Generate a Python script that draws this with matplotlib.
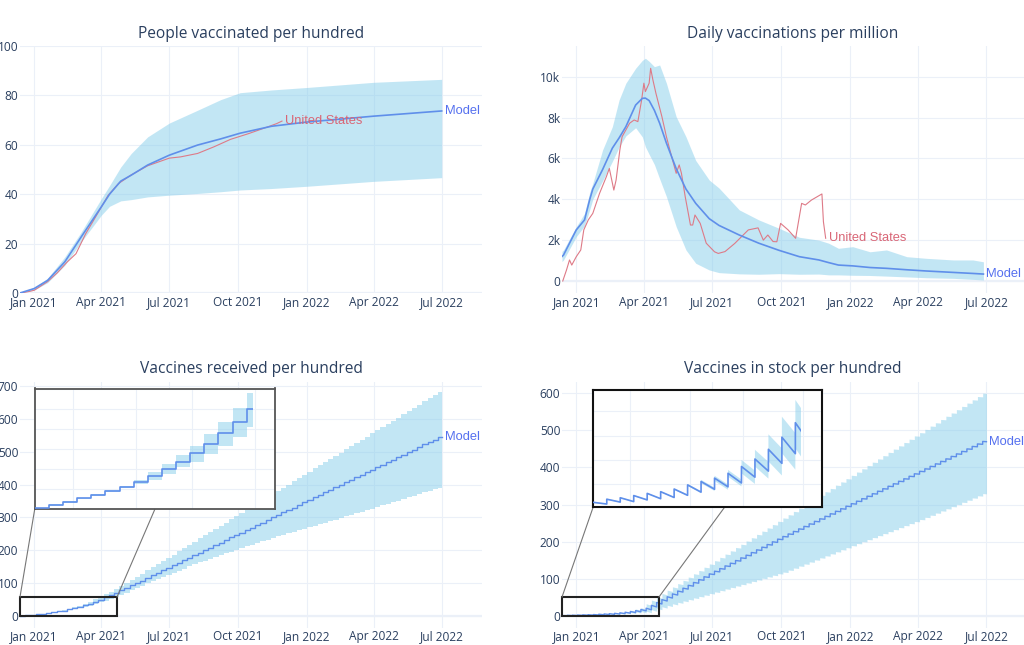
import matplotlib
matplotlib.use('Agg')
import matplotlib.pyplot as plt
import matplotlib.dates as mdates
from matplotlib.patches import Rectangle, ConnectionPatch
from matplotlib.ticker import FuncFormatter
import pandas as pd

# ------------------------------------------------------------------ data
# People vaccinated per hundred (model median / band) and United States
pv_dates = ['2020-12-13', '2021-01-01', '2021-01-19', '2021-02-11', '2021-03-05', '2021-04-01',
            '2021-04-12', '2021-04-27', '2021-05-11', '2021-06-02', '2021-07-01', '2021-08-08',
            '2021-09-08', '2021-10-04', '2021-11-15', '2022-01-01', '2022-04-01', '2022-07-01']
pv_model = [0, 1.8, 5.1, 12.6, 22.7, 34.9, 40.0, 45.3, 47.7, 51.8, 55.8, 59.9, 62.4, 64.7, 67.5, 69.2, 71.6, 73.7]
pv_upper = [0, 2.3, 6.0, 14.6, 24.7, 38.2, 43.5, 51.0, 56.5, 63.2, 68.8, 74.0, 78.3, 81.1, 82.2, 83.2, 85.3, 86.5]
pv_lower = [0, 1.2, 4.2, 11.2, 20.7, 31.5, 35.1, 37.3, 37.8, 38.9, 39.6, 40.3, 41.0, 41.7, 42.3, 43.2, 45.2, 46.7]

us_pv_dates = ['2020-12-14', '2020-12-25', '2021-01-01', '2021-01-19', '2021-02-01', '2021-02-14',
               '2021-02-26', '2021-03-11', '2021-03-27', '2021-04-10', '2021-04-24', '2021-05-11',
               '2021-06-02', '2021-07-01', '2021-07-16', '2021-08-08', '2021-08-30', '2021-09-21',
               '2021-10-15', '2021-11-01', '2021-11-13', '2021-11-22', '2021-11-29']
us_pv = [0, 0.6, 1.1, 4.6, 8.2, 12.5, 15.9, 24.0, 32.2, 39.5, 44.3, 47.8, 51.5, 54.6, 55.1,
         56.5, 59.2, 62.2, 64.5, 66.3, 67.6, 68.6, 69.6]

# Daily vaccinations per million
dv_dates = ['2020-12-13', '2020-12-15', '2021-01-01', '2021-01-12', '2021-01-19', '2021-01-23',
            '2021-02-05', '2021-02-18', '2021-02-27', '2021-03-08', '2021-03-21', '2021-03-30',
            '2021-04-03', '2021-04-08', '2021-04-15', '2021-04-22', '2021-05-01', '2021-05-14',
            '2021-05-27', '2021-06-09', '2021-06-27', '2021-07-10', '2021-08-06', '2021-09-01',
            '2021-09-28', '2021-10-25', '2021-11-20', '2021-12-03', '2021-12-16', '2022-01-04',
            '2022-01-27', '2022-02-18', '2022-03-17', '2022-04-12', '2022-05-18', '2022-06-13',
            '2022-06-27']
dv_model = [1200, 1270, 2500, 2990, 4000, 4500, 5450, 6500, 7000, 7550, 8610, 8940, 8950, 8830,
            8350, 7720, 6750, 5500, 4500, 3800, 3050, 2720, 2250, 1850, 1500, 1190, 1030, 900,
            780, 740, 660, 620, 550, 490, 420, 370, 340]
dv_upper = [1450, 1520, 2660, 3310, 4350, 4780, 6410, 7550, 8860, 9680, 10410, 10800, 10900,
            10750, 10490, 10570, 9680, 8040, 7060, 5900, 4940, 4550, 3480, 2990, 2580, 2140,
            2000, 1850, 1600, 1680, 1430, 1520, 1190, 1110, 1030, 1030, 940]
dv_lower = [950, 1030, 2170, 2700, 3500, 4000, 4900, 5850, 6550, 7100, 7500, 7050, 6570, 6200,
            5700, 5000, 4130, 2660, 1520, 870, 540, 410, 350, 330, 360, 330, 340, 300, 300, 280,
            270, 240, 200, 160, 130, 80, 50]

us_dv_dates = ['2020-12-14', '2020-12-19', '2020-12-23', '2020-12-26', '2021-01-01', '2021-01-07',
               '2021-01-11', '2021-01-17', '2021-01-23', '2021-02-01', '2021-02-10', '2021-02-14',
               '2021-02-20', '2021-02-23', '2021-02-28', '2021-03-03', '2021-03-13', '2021-03-19',
               '2021-03-24', '2021-03-29', '2021-04-01', '2021-04-03', '2021-04-08', '2021-04-10',
               '2021-04-13', '2021-04-17', '2021-04-25', '2021-05-01', '2021-05-08', '2021-05-14',
               '2021-05-18', '2021-05-21', '2021-05-26', '2021-06-02', '2021-06-05', '2021-06-08',
               '2021-06-15', '2021-06-23', '2021-07-04', '2021-07-09', '2021-07-18', '2021-07-31',
               '2021-08-18', '2021-08-31', '2021-09-07', '2021-09-13', '2021-09-20', '2021-09-25',
               '2021-09-30', '2021-10-10', '2021-10-20', '2021-10-28', '2021-11-02', '2021-11-10',
               '2021-11-24', '2021-11-26', '2021-11-29']
us_dv = [0, 540, 1030, 780, 1190, 1520, 2500, 2990, 3310, 4290, 5100, 5510, 4450, 4940, 6410,
         7060, 7720, 7880, 7800, 8860, 9680, 9270, 9680, 10410, 9840, 9190, 8040, 7060, 6080,
         5270, 5680, 5270, 4130, 2740, 2740, 3230, 2820, 1850, 1430, 1350, 1440, 1840, 2500,
         2600, 2000, 2250, 1930, 1920, 2820, 2500, 2090, 3800, 3720, 3960, 4260, 2900, 2090]

# Weekly deliveries (model): first delivery date, series start / end
first_delivery = '2020-12-20'
model_start = '2020-12-13'
model_end = '2022-07-01'

# Vaccines received per hundred: level after each weekly delivery
recv_start = 0.8
recv_model = [2.2, 3.7, 5.5, 7.2, 9.2, 11.3, 13.8, 16.7, 20.0, 23.8, 28.0, 32.7, 38.0, 43.8, 50.0,
              56.3, 63.1, 70.3, 77.8, 85.5,
              93, 101, 108, 116, 124, 131, 139, 147, 154, 162, 170, 177, 185, 193, 200, 208, 216,
              223, 231, 239, 246, 254, 261, 269, 277, 284, 292, 300, 307, 315, 323, 330, 338, 346,
              353, 361, 369, 376, 384, 392, 399, 407, 414, 422, 430, 437, 445, 453, 460, 468, 476,
              483, 491, 499, 506, 514, 522, 529, 537, 545]
recv_upper = [2.5, 4.0, 5.8, 7.5, 9.6, 11.8, 14.8, 18.8, 22.7, 27.2, 31.8, 37.5, 43.5, 50.5, 58.3,
              65.5, 73.0, 81.0, 90.0, 100.0,
              109, 119, 129, 139, 148, 158, 168, 178, 187, 197, 206, 216, 226, 236, 245, 255, 265,
              274, 284, 294, 303, 313, 323, 333, 342, 352, 362, 371, 381, 391, 400, 410, 420, 430,
              439, 449, 459, 468, 478, 488, 497, 507, 517, 527, 536, 546, 556, 565, 575, 585, 594,
              604, 614, 624, 633, 643, 653, 662, 672, 682]
recv_lower = [1.9, 3.4, 5.2, 6.9, 8.8, 10.8, 12.8, 14.7, 17.5, 21.0, 23.8, 27.7, 31.8, 36.3, 41.3,
              46.0, 51.5, 57.5, 64.0, 71.0,
              78, 85, 92, 99, 106, 113, 119, 125, 132, 138, 144, 151, 157, 163, 168, 174, 179,
              185, 191, 196, 202, 207, 212, 217, 222, 227, 232, 237, 242, 247, 252, 257, 261, 266,
              270, 275, 280, 284, 289, 293, 298, 303, 308, 312, 317, 322, 327, 332, 337, 342, 346,
              351, 356, 361, 366, 371, 376, 380, 385, 390]

# Vaccines in stock per hundred: level right after each delivery, and use until the next one
stock_start = 1.2
stock_start_upper = 1.3
stock_start_lower = 1.1
stock_start_use = 0.35
stock_model = [1.85, 2.15, 2.6, 3.05, 3.4, 3.95, 4.8, 5.5, 6.2, 7.2, 8.6, 10.15, 12.15, 14.65, 17.65,
               21.0, 28.7, 36.4, 44.1, 51.8, 59.5, 67.2, 74.9, 82.6, 90.3, 98.0, 105.7, 113.4,
               120.6, 127.8, 135.0, 142.2, 149.4, 156.6, 163.8, 171.0, 178.2, 185.4, 192.6, 199.8,
               207.0, 214.2, 221.0, 227.8, 234.6, 241.4, 248.2, 255.0, 261.8, 268.6, 275.4, 282.2,
               289.0, 295.8, 302.6, 309.3, 316.0, 322.7, 329.4, 336.1, 342.8, 349.5, 356.2, 362.9,
               369.6, 376.3, 383.0, 389.7, 396.4, 403.1, 409.8, 416.5, 423.2, 429.9, 436.6, 443.3,
               450.0, 456.7, 463.4, 470.1]
stock_upper = [1.95, 2.25, 2.7, 3.15, 3.5, 4.1, 5.0, 5.85, 6.7, 7.9, 9.95, 12.05, 15.25, 18.9, 22.35,
               33.0, 43.0, 52.0, 60.8, 69.7, 78.5, 87.4, 96.2, 105.0, 113.9, 122.7, 131.6, 140.4,
               149.2, 158.1, 166.9, 175.8, 184.6, 193.4, 202.3, 211.1, 220.0, 228.8, 237.6, 246.5,
               255.3, 264.2, 273.0, 281.8, 290.7, 299.5, 308.4, 317.2, 326.0, 334.9, 343.7, 352.6,
               361.4, 370.2, 379.1, 387.9, 396.8, 405.6, 414.4, 423.3, 432.1, 441.0, 449.8, 458.6,
               467.5, 476.3, 485.2, 494.0, 502.8, 511.7, 520.5, 529.4, 538.2, 547.0, 555.9, 564.7,
               573.6, 582.4, 591.2, 600.1]
stock_lower = [1.75, 2.05, 2.5, 2.95, 3.3, 3.8, 4.6, 5.15, 5.6, 6.5, 7.2, 8.6, 9.65, 11.35, 12.35,
               13.0, 17.0, 21.0, 25, 29, 33, 37, 41, 45, 49, 53, 57, 61,
               65.1, 69.2, 73.3, 77.4, 81.5, 85.6, 89.7, 93.8, 97.9, 102.0, 106.1, 110.2, 114.3, 118.4,
               123.9, 129.4, 134.9, 140.4, 145.9, 151.4, 156.9, 162.4, 167.9, 173.4, 178.9, 184.4, 189.9,
               195.3, 200.7, 206.1, 211.5, 216.9, 222.3, 227.7, 233.1, 238.5, 243.9, 249.3, 254.7, 260.1,
               265.9, 271.7, 277.5, 283.3, 289.1, 294.9, 300.7, 306.5, 312.3, 318.1, 323.9, 329.7]
stock_use = [0.6, 0.8, 0.9, 1.1, 1.2, 1.3, 1.5, 1.6, 1.8, 2.0, 2.2, 2.5, 2.9, 3.4, 4.0,
             4.3, 4.3, 4.1, 3.8, 3.5, 3.1, 2.8, 2.5, 2.2, 2.0,
             1.8, 1.8, 1.8, 1.8, 1.8,
             1.6, 1.6, 1.6, 1.6, 1.6, 1.6, 1.6, 1.6, 1.6, 1.6,
             1.3, 1.3, 1.3, 1.3, 1.3, 1.3, 1.3, 1.3, 1.3, 1.3, 1.3, 1.3, 1.3, 1.3, 1.3,
             1.0, 1.0, 1.0, 1.0, 1.0, 1.0, 1.0, 1.0, 1.0, 1.0, 1.0, 1.0, 1.0, 1.0, 1.0,
             1.0, 1.0, 1.0, 1.0, 1.0, 1.0, 1.0, 1.0, 1.0, 0.7]

x_tick_dates = ['2021-01-01', '2021-04-01', '2021-07-01', '2021-10-01',
                '2022-01-01', '2022-04-01', '2022-07-01']
inset_tick_dates = ['2021-01-01', '2021-02-01', '2021-03-01', '2021-04-01']

titles = ['People vaccinated per hundred', 'Daily vaccinations per million',
          'Vaccines received per hundred', 'Vaccines in stock per hundred']

# ------------------------------------------------------------------ style / layout
plt.rcParams['font.family'] = ['Open Sans', 'DejaVu Sans']
TXT = '#2a3f5f'
GRID = '#ebf0f8'
BAND = (135 / 255, 206 / 255, 235 / 255, 0.5)
MODEL = '#5f8fea'
MODEL_TXT = '#5570ef'
US = '#de7a87'
US_TXT = '#d96676'
LABEL_FONT = 'Liberation Sans'

W, H = 1024, 645
fig = plt.figure(figsize=(W / 100, H / 100), dpi=100)
fig.patch.set_facecolor('white')


def add_px_axes(left, top, width, height):
    return fig.add_axes([left / W, 1 - (top + height) / H, width / W, height / H])


XMIN = pd.Timestamp('2020-12-13')
XMAX = pd.Timestamp('2022-08-24')
INSET_XMAX = pd.Timestamp('2021-04-11')
INSET_DATA_END = pd.Timestamp('2021-03-31')
d2n = mdates.date2num


def style_main(ax, ylim, yticks, yfmt=None):
    ax.set_xlim(XMIN, XMAX)
    ax.set_ylim(*ylim)
    ax.set_xticks(pd.to_datetime(x_tick_dates))
    ax.xaxis.set_major_formatter(mdates.DateFormatter('%b %Y'))
    ax.set_yticks(yticks)
    if yfmt is not None:
        ax.yaxis.set_major_formatter(FuncFormatter(yfmt))
    for s in ax.spines.values():
        s.set_visible(False)
    ax.grid(True, color=GRID, lw=0.8)
    ax.set_axisbelow(True)
    ax.tick_params(length=0, labelsize=8.6, labelcolor=TXT)
    ax.tick_params(axis='x', pad=2.0)
    ax.tick_params(axis='y', pad=1.2)
    ax.axhline(0, color=GRID, lw=1.6, zorder=0.6)
    ax.patch.set_alpha(0)


def label(ax, x, y, text, color):
    ax.annotate(text, xy=(x, y), xytext=(2.2, 0), textcoords='offset points',
                ha='left', va='center', color=color, fontsize=9.3,
                family=LABEL_FONT, annotation_clip=False, zorder=6)


def steps(start, levels, dates):
    xs = [pd.Timestamp(model_start)] + list(dates) + [pd.Timestamp(model_end)]
    ys = [start] + list(levels) + [levels[-1]]
    return xs, ys


def sawtooth(start, pre_use, peaks, uses, dates):
    xs = [pd.Timestamp(model_start), dates[0]]
    ys = [start, start - pre_use]
    n = len(peaks)
    for i in range(n):
        nxt = dates[i + 1] if i + 1 < n else pd.Timestamp(model_end)
        xs += [dates[i], nxt]
        ys += [peaks[i], peaks[i] - uses[i]]
    return xs, ys


def make_inset(left, top, width, height, ylim, yticks, frame_color, frame_lw):
    ins = add_px_axes(left, top, width, height)
    ins.set_xlim(XMIN, INSET_XMAX)
    ins.set_ylim(*ylim)
    ins.set_xticks(pd.to_datetime(inset_tick_dates))
    ins.set_yticks(yticks)
    ins.tick_params(length=0, labelbottom=False, labelleft=False)
    ins.grid(True, color=GRID, lw=0.8)
    ins.set_axisbelow(True)
    ins.set_facecolor('white')
    for s in ins.spines.values():
        s.set_color(frame_color)
        s.set_linewidth(frame_lw)
    ins.set_zorder(5)
    return ins


def clip_to(artist, ax, ylim):
    r = Rectangle((d2n(XMIN), ylim[0] - 1000), d2n(INSET_DATA_END) - d2n(XMIN), 5000,
                  transform=ax.transData)
    artist.set_clip_path(r)


deliveries = pd.date_range(first_delivery, periods=len(recv_model), freq='7D')

# ------------------------------------------------------------------ top-left
ax1 = add_px_axes(20, 46, 462, 247)
style_main(ax1, (0, 100), [0, 20, 40, 60, 80, 100])
d = pd.to_datetime(pv_dates)
ax1.fill_between(d, pv_lower, pv_upper, color=BAND, lw=0, zorder=1)
ax1.plot(pd.to_datetime(us_pv_dates), us_pv, color=US, lw=0.8, zorder=2)
ax1.plot(d, pv_model, color=MODEL, lw=1.2, zorder=3)
label(ax1, pd.Timestamp(us_pv_dates[-1]), us_pv[-1], 'United States', US_TXT)
label(ax1, d[-1], pv_model[-1], 'Model', MODEL_TXT)

# ------------------------------------------------------------------ top-right
ax2 = add_px_axes(562, 46, 465, 247)
style_main(ax2, (-587, 11500), [0, 2000, 4000, 6000, 8000, 10000],
           lambda v, p: '0' if v == 0 else f'{int(v / 1000)}k')
d = pd.to_datetime(dv_dates)
ax2.fill_between(d, dv_lower, dv_upper, color=BAND, lw=0, zorder=1)
ax2.plot(pd.to_datetime(us_dv_dates), us_dv, color=US, lw=0.8, zorder=2)
ax2.plot(d, dv_model, color=MODEL, lw=1.2, zorder=3)
label(ax2, pd.Timestamp(us_dv_dates[-1]), us_dv[-1], 'United States', US_TXT)
label(ax2, d[-1], dv_model[-1], 'Model', MODEL_TXT)

# ------------------------------------------------------------------ bottom-left (received)
ax3 = add_px_axes(20, 381.7, 462, 245.8)
style_main(ax3, (-35, 713), [0, 100, 200, 300, 400, 500, 600, 700])
xs, ym = steps(recv_start, recv_model, deliveries)
_, yu = steps(recv_start, recv_upper, deliveries)
_, yl = steps(recv_start, recv_lower, deliveries)
ax3.fill_between(xs, yl, yu, step='post', color=BAND, lw=0, zorder=1)
ax3.plot(xs, ym, drawstyle='steps-post', color=MODEL, lw=1.0, zorder=3)
label(ax3, xs[-1], ym[-1], 'Model', MODEL_TXT)

RECV_RECT_END = pd.Timestamp('2021-04-22')
RECV_RECT_TOP = 58
ax3.add_patch(Rectangle((d2n(XMIN), 0), d2n(RECV_RECT_END) - d2n(XMIN), RECV_RECT_TOP,
                        fill=False, ec='#222222', lw=1.5, zorder=6, clip_on=False))
ins3_ylim = (0, 60.5)
ins3 = make_inset(34.7, 388.5, 240.3, 120.8, ins3_ylim, [10, 20, 30, 40, 50, 60], '#555555', 1.3)
pc = ins3.fill_between(xs, yl, yu, step='post', color=BAND, lw=0, zorder=1)
ln, = ins3.plot(xs, ym, drawstyle='steps-post', color=MODEL, lw=1.2, zorder=3)
clip_to(pc, ins3, ins3_ylim)
clip_to(ln, ins3, ins3_ylim)
for xyA, xB in [((d2n(XMIN), RECV_RECT_TOP), 0.0), ((d2n(RECV_RECT_END), RECV_RECT_TOP), 0.5)]:
    con = ConnectionPatch(xyA=xyA, coordsA=ax3.transData, xyB=(xB, 0), coordsB=ins3.transAxes,
                          color='#777777', lw=0.8)
    fig.add_artist(con)

# ------------------------------------------------------------------ bottom-right (stock)
ax4 = add_px_axes(562, 381.7, 465, 245.8)
style_main(ax4, (-31, 631), [0, 100, 200, 300, 400, 500, 600])
xs, ym = sawtooth(stock_start, stock_start_use, stock_model, stock_use, deliveries)
_, yu = sawtooth(stock_start_upper, stock_start_use, stock_upper, stock_use, deliveries)
_, yl = sawtooth(stock_start_lower, stock_start_use, stock_lower, stock_use, deliveries)
ax4.fill_between(xs, yl, yu, color=BAND, lw=0, zorder=1)
ax4.plot(xs, ym, color=MODEL, lw=1.0, zorder=3)
label(ax4, xs[-1], ym[-1], 'Model', MODEL_TXT)

STOCK_RECT_END = pd.Timestamp('2021-04-21')
STOCK_RECT_TOP = 51
ax4.add_patch(Rectangle((d2n(XMIN), 0), d2n(STOCK_RECT_END) - d2n(XMIN), STOCK_RECT_TOP,
                        fill=False, ec='#222222', lw=1.5, zorder=6, clip_on=False))
ins4_ylim = (0.3, 24.4)
ins4 = make_inset(593.3, 390, 229, 116.7, ins4_ylim, [5, 10, 15, 20], '#111111', 1.5)
pc = ins4.fill_between(xs, yl, yu, color=BAND, lw=0, zorder=1)
ln, = ins4.plot(xs, ym, color=MODEL, lw=1.2, zorder=3)
clip_to(pc, ins4, ins4_ylim)
clip_to(ln, ins4, ins4_ylim)
for xyA, xB in [((d2n(XMIN), STOCK_RECT_TOP), 0.0), ((d2n(STOCK_RECT_END), STOCK_RECT_TOP), 0.575)]:
    con = ConnectionPatch(xyA=xyA, coordsA=ax4.transData, xyB=(xB, 0), coordsB=ins4.transAxes,
                          color='#777777', lw=0.8)
    fig.add_artist(con)

# ------------------------------------------------------------------ titles
for (cx, cy), t in zip([(251, 34.5), (793, 34.5), (251, 368.8), (793, 368.8)], titles):
    fig.text(cx / W, 1 - cy / H, t, ha='center', va='center', fontsize=11.2, color=TXT)

fig.savefig('out.png', dpi=100, facecolor='white')
